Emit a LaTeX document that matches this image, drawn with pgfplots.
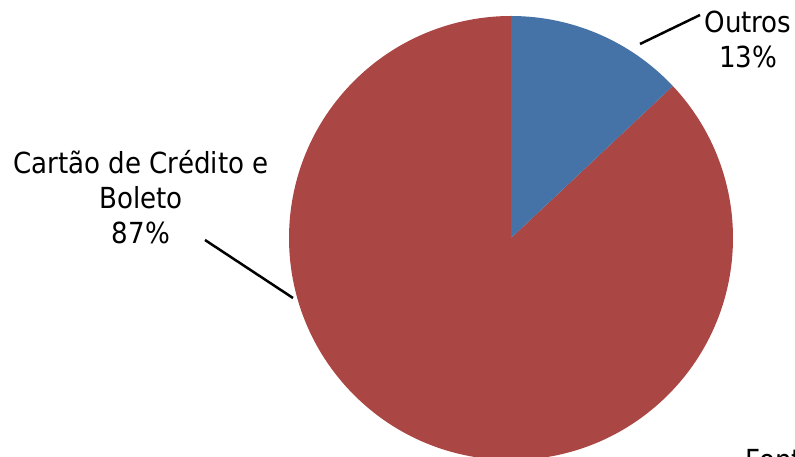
\documentclass[border=0pt]{standalone}
\usepackage{pgfplots}
\usepackage{pgfplotstable}
\pgfplotsset{compat=1.18}
\usepackage{fontspec}
\setmainfont{DejaVu Sans}[FakeStretch=0.9]
\definecolor{pieblue}{HTML}{4572A7}
\definecolor{piered}{HTML}{AA4643}
\pgfplotstableread{
label value
Outros 13
Cartao 87
}\piedata
\pgfplotstablegetelem{0}{value}\of\piedata
\pgfmathsetmacro{\angA}{90-3.6*\pgfplotsretval}
\pgfplotstablegetelem{1}{value}\of\piedata
\pgfmathsetmacro{\angB}{\angA-3.6*\pgfplotsretval}
\begin{document}
\begin{tikzpicture}
\begin{axis}[name=ax, scale only axis, width=795bp, height=457bp,
  xmin=0, xmax=795, ymin=0, ymax=457, hide axis, clip=true]
\fill[piered] (axis cs:511,219) -- ++(\angA:222bp) arc[start angle=\angA, end angle=\angB, radius=222bp] -- cycle;
\fill[pieblue] (axis cs:511,219) -- ++(90:222bp) arc[start angle=90, end angle=\angA, radius=222bp] -- cycle;
\draw[line width=2.5bp] (axis cs:640,413) -- (axis cs:700,442);
\draw[line width=2.5bp] (axis cs:205,217) -- (axis cs:293,159);
\node[align=center, inner sep=0pt, font=\fontsize{29bp}{35bp}\selectfont] at (axis cs:748,417.5) {Outros\\13\%};
\node[align=center, inner sep=0pt, font=\fontsize{29bp}{35bp}\selectfont] at (axis cs:141,260) {Cartão de Crédito e\\Boleto\\87\%};
\node[anchor=base west, inner sep=0pt, font=\fontsize{29bp}{35bp}\selectfont] at (axis cs:745,-13) {Fonte:};
\end{axis}
\pgfresetboundingbox
\path[use as bounding box] (ax.south west) rectangle (ax.north east);
\end{tikzpicture}
\end{document}
